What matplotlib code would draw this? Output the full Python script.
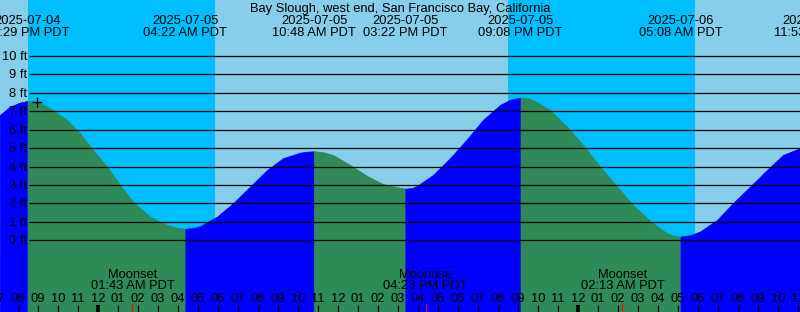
import numpy as np
import matplotlib
matplotlib.use('Agg')
import matplotlib.pyplot as plt

# Tide chart: Bay Slough, west end, San Francisco Bay (XTide style)
# time axis = hours from midnight 2025-07-05 (PDT)

title = 'Bay Slough, west end, San Francisco Bay, California'

curve_hours = [-4.9, -4.4, -3.9, -3.52, -3.0, -2.4, -1.55, -0.9, -0.25, 0.45,
               1.1, 1.75, 2.6, 3.45, 3.9, 4.37, 4.8, 5.1, 5.95, 6.75,
               7.6, 8.45, 9.25, 10.1, 10.4, 10.8, 11.2, 11.75, 12.6, 13.45,
               14.25, 14.7, 15.1, 15.37, 15.7, 15.95, 16.75, 17.6, 18.45, 19.25,
               20.1, 20.6, 21.13, 21.5, 21.75, 22.6, 23.45, 24.25, 25.1, 25.95,
               26.75, 27.6, 28.45, 28.8, 29.13, 29.6, 30.1, 30.95, 31.75, 32.6,
               33.45, 34.25, 35.1]
curve_ft = [6.80, 7.25, 7.47, 7.56, 7.51, 7.16, 6.53, 5.80, 4.90, 3.99,
            3.00, 2.09, 1.28, 0.83, 0.68, 0.62, 0.67, 0.76, 1.28, 2.00,
            2.91, 3.81, 4.45, 4.75, 4.80, 4.83, 4.79, 4.63, 4.09, 3.49,
            3.05, 2.93, 2.85, 2.80, 2.83, 2.95, 3.54, 4.45, 5.48, 6.53,
            7.34, 7.62, 7.74, 7.70, 7.61, 7.07, 6.16, 5.17, 4.01, 2.91,
            1.92, 1.05, 0.38, 0.25, 0.20, 0.27, 0.47, 1.10, 2.01, 2.91,
            3.81, 4.63, 4.99]

# high / low tide events
extreme_hours = [-3.52, 4.37, 10.80, 15.37, 21.13, 29.13, 35.88]
extreme_dates = ['2025-07-04', '2025-07-05', '2025-07-05', '2025-07-05',
                 '2025-07-05', '2025-07-06', '2025-07-06']
extreme_times = ['08:29 PM PDT', '04:22 AM PDT', '10:48 AM PDT', '03:22 PM PDT',
                 '09:08 PM PDT', '05:08 AM PDT', '11:53 AM PDT']
extreme_is_high = [True, False, True, False, True, False, True]

# sunset / sunrise
night_start = [-3.5, 20.52]
night_end = [5.85, 29.85]

# moon events
moon_hours = [1.72, 16.38, 26.22]
moon_names = ['Moonset', 'Moonrise', 'Moonset']
moon_times = ['01:43 AM PDT', '04:23 PM PDT', '02:13 AM PDT']

ft_levels = list(range(0, 11))

day_col = '#87CEEB'
night_col = '#00BFFF'
rise_col = '#0000FF'
fall_col = '#2E8B57'

plt.rcParams['font.family'] = ['Liberation Sans', 'DejaVu Sans']
fs = 9.3

W, H = 800, 312
fig = plt.figure(figsize=(W / 100, H / 100), dpi=100, facecolor=day_col)
ax = fig.add_axes([0, 0, 1, 1])
ax.axis('off')


def hx(px):
    # pixel column -> hours
    return (px - 98) / 20.0


def fy(py):
    # pixel row -> axes fraction
    return 1 - py / H


ft_px = 18.43
zero_px = 240.3
ybot = (zero_px - H) / ft_px
ytop = zero_px / ft_px
ax.set_xlim(hx(0), hx(W))
ax.set_ylim(ybot, ytop)

# night bands
for a, b in zip(night_start, night_end):
    ax.axvspan(a, b, color=night_col, lw=0, zorder=0)

# tide fill, blue when rising, green when falling
th = np.array(curve_hours)
tf = np.array(curve_ft)
edges = [th[0]] + extreme_hours + [th[-1]]
rising = [extreme_is_high[0]] + [not h for h in extreme_is_high]
for i in range(len(edges) - 1):
    a, b = edges[i], edges[i + 1]
    m = (th >= a) & (th <= b)
    if m.sum() < 2:
        continue
    c = rise_col if rising[i] else fall_col
    ax.fill_between(th[m], tf[m], ybot, color=c, lw=0.6, edgecolor=c, zorder=1)

# ft grid lines and labels
for v in ft_levels:
    ax.hlines(v, hx(29), hx(W), color='black', lw=0.9, zorder=2)
    ax.text(hx(27), v - 4 / ft_px, f'{v} ft', ha='right', va='baseline',
            fontsize=fs, zorder=3)

# marker
ax.plot([-3.05], [7.5], marker='+', ms=7, mew=1.0, color='black', zorder=3)

trans = ax.get_xaxis_transform()

# title and tide event labels
ax.text(hx(400), fy(11.7), title, ha='center', va='baseline', fontsize=fs,
        transform=trans)
for t, d, s in zip(extreme_hours, extreme_dates, extreme_times):
    ax.text(t, fy(24), d, ha='center', va='baseline', fontsize=fs, transform=trans)
    ax.text(t, fy(36), s, ha='center', va='baseline', fontsize=fs, transform=trans)

# moon labels
for t, n, s in zip(moon_hours, moon_names, moon_times):
    ax.text(t, fy(278.3), n, ha='center', va='baseline', fontsize=fs, transform=trans)
    ax.text(t, fy(289.3), s, ha='center', va='baseline', fontsize=fs, transform=trans)
    ax.plot([t, t], [fy(303.5), 0], color='red', lw=0.9, transform=trans,
            solid_capstyle='butt', zorder=3)

# hour ticks and labels
for hr in range(-5, 36):
    hod = hr % 24
    lab = f'{(hod % 12) or 12:02d}'
    ax.text(hr, fy(301.7), lab, ha='center', va='baseline', fontsize=fs,
            transform=trans)
    w = 2.6 if hod == 0 else 0.9
    ax.plot([hr, hr], [fy(305), 0], color='black', lw=w, transform=trans,
            solid_capstyle='butt', zorder=3)

fig.savefig('out.png', dpi=100, facecolor=day_col)
